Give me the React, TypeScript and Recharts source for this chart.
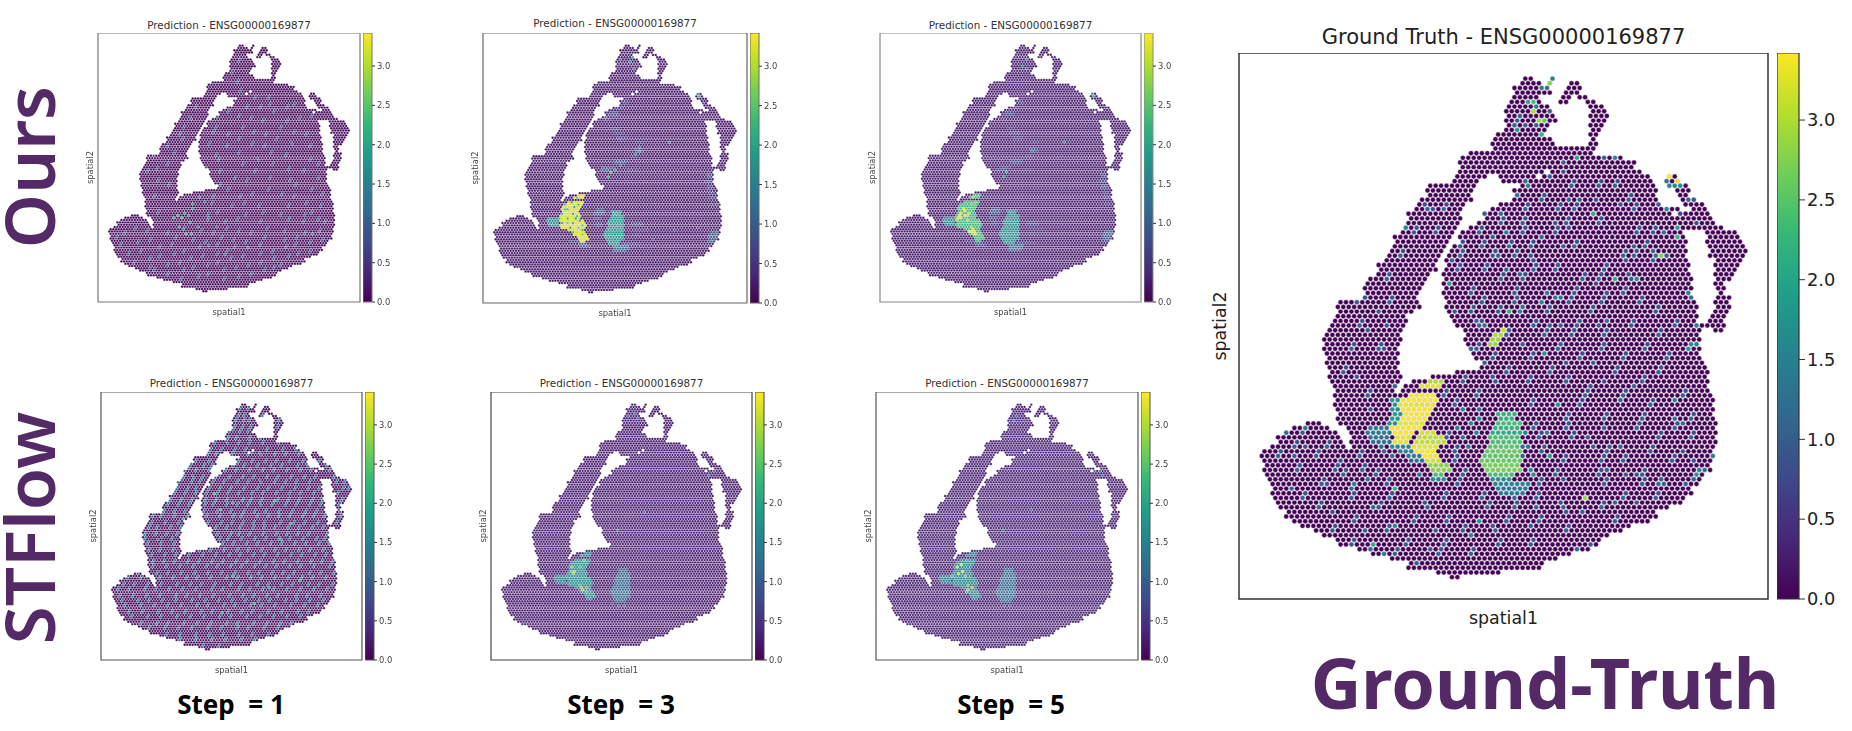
import * as React from 'react';
import { ScatterChart, Scatter, XAxis, YAxis, ReferenceArea, BarChart, Bar } from 'recharts';

// all spots are in one "spatial" unit system
const spatialX: [number, number] = [45, 1369];
const spatialY: [number, number] = [60, 1443];
const spotStep = 13.6;
const spotRowStep = 11.8;
const outlineRowStep = 14.5;
const colorMax = 3.42;
const colorTicks = [0, 0.5, 1, 1.5, 2, 2.5, 3];
const viridis = ['#440154', '#482878', '#3e4989', '#31688e', '#26828e', '#1f9e89', '#35b779', '#6ece58', '#b5de2b', '#fde725'];

// tissue outline, row by row: y, then pairs of x start / x end
const tissueRows: number[][] = [
  [125, 762, 778, 822, 830], [140, 745, 800, 815, 822, 875, 890], [154, 732, 820, 865, 895],
  [169, 725, 790, 848, 880, 900, 915], [183, 722, 800, 845, 870, 912, 930], [198, 722, 815, 925, 950],
  [212, 716, 825, 930, 960], [227, 716, 835, 925, 965], [241, 713, 820, 920, 960], [256, 710, 815, 925, 950],
  [270, 690, 800, 925, 940], [285, 680, 830, 925, 940], [299, 680, 905, 920, 935], [314, 620, 925],
  [328, 605, 1010], [343, 600, 1035], [357, 595, 810, 830, 1050], [372, 588, 668, 698, 790, 800, 1065, 1120, 1135],
  [386, 585, 640, 700, 765, 775, 1075, 1108, 1145], [401, 525, 640, 755, 1085, 1125, 1160],
  [415, 515, 625, 735, 1090, 1140, 1170], [430, 500, 635, 725, 1095, 1150, 1185], [444, 490, 610, 700, 1105, 1165, 1205],
  [459, 480, 605, 680, 1115, 1125, 1140, 1180, 1215], [473, 470, 600, 660, 1130, 1140, 1225], [488, 460, 590, 640, 1235],
  [502, 455, 585, 620, 1250], [517, 450, 575, 605, 1155, 1215, 1285], [531, 435, 570, 595, 1160, 1220, 1300],
  [546, 428, 560, 585, 1160, 1225, 1305], [560, 420, 550, 575, 1165, 1230, 1312], [575, 412, 545, 570, 1165, 1225, 1312],
  [589, 405, 545, 565, 1170, 1235, 1300], [604, 395, 540, 565, 1170, 1240, 1295], [618, 385, 525, 560, 1175, 1235, 1285],
  [633, 375, 515, 558, 1175, 1235, 1275], [647, 368, 505, 558, 1180, 1235, 1255], [662, 362, 495, 560, 1180, 1245, 1255],
  [676, 360, 485, 560, 1185, 1245, 1270], [691, 300, 490, 562, 1185, 1235, 1275], [705, 292, 495, 565, 1190, 1235, 1275],
  [720, 290, 475, 572, 1190, 1235, 1265], [734, 285, 465, 580, 1190, 1225, 1260], [749, 280, 458, 590, 1195, 1205, 1255],
  [763, 270, 455, 605, 1195, 1235, 1250], [778, 262, 450, 615, 1195], [792, 255, 448, 615, 1195], [807, 258, 445, 618, 1200],
  [821, 258, 445, 625, 1200], [836, 262, 442, 640, 1205], [850, 265, 445, 650, 1210], [865, 270, 448, 590, 1215],
  [879, 272, 450, 530, 1215], [894, 277, 445, 480, 1220], [908, 280, 440, 465, 1220], [923, 285, 435, 450, 1225],
  [937, 285, 1230], [952, 288, 1230], [966, 288, 1230], [981, 295, 1232], [995, 215, 255, 300, 1235],
  [1010, 185, 270, 315, 1235], [1024, 165, 285, 320, 1235], [1039, 145, 300, 325, 1238], [1053, 125, 315, 330, 1238],
  [1068, 110, 325, 335, 1230], [1082, 105, 1228], [1097, 103, 1225], [1111, 108, 1222], [1126, 112, 1210],
  [1140, 115, 1195], [1155, 120, 1190], [1169, 128, 1180], [1184, 135, 1165], [1198, 145, 1150], [1213, 150, 1125],
  [1227, 160, 1085], [1242, 180, 1065], [1256, 205, 1030], [1271, 235, 1000], [1285, 255, 965], [1300, 290, 945],
  [1314, 340, 925], [1329, 380, 880], [1343, 420, 845], [1358, 470, 800], [1372, 540, 700], [1387, 570, 590],
];

// expression regions as y, x start, x end
const yellowZone: number[][] = [
  [894, 525, 550], [908, 497, 548], [923, 475, 542], [937, 455, 538], [952, 442, 532], [966, 440, 530], [981, 440, 525],
  [995, 435, 530], [1010, 425, 530], [1024, 425, 545], [1039, 432, 555], [1053, 445, 552], [1068, 470, 552],
  [1082, 490, 555], [1097, 505, 560], [1111, 520, 570], [1126, 530, 560],
];
const blobZone: number[][] = [
  [981, 695, 735], [995, 685, 745], [1010, 680, 750], [1024, 680, 750], [1039, 675, 745], [1053, 670, 745], [1068, 665, 745],
  [1082, 658, 745], [1097, 655, 745], [1111, 660, 745], [1126, 665, 730], [1140, 680, 730],
];
const leftPatch: number[][] = [[1010, 365, 420], [1024, 360, 425], [1039, 375, 420]];

// faint structure in the later steps: y, x start, x end, value
const hazeRuns: number[][] = [
  [415, 745, 770, 0.6], [444, 710, 745, 0.6], [473, 680, 720, 0.7], [502, 650, 690, 0.6], [546, 690, 720, 0.6], [575, 710, 750, 0.6], [604, 720, 760, 0.5],
  [720, 710, 765, 0.7], [749, 650, 700, 0.7], [763, 635, 680, 0.7], [763, 770, 820, 0.5], [618, 810, 850, 0.5], [662, 810, 845, 0.8], [691, 785, 825, 0.6],
  [792, 1170, 1190, 0.8], [821, 1165, 1190, 0.8], [850, 1170, 1200, 0.7], [879, 1175, 1205, 0.7], [908, 1180, 1210, 0.7], [937, 1185, 1215, 0.6],
  [1082, 1190, 1225, 0.9], [1097, 1185, 1222, 0.9], [1111, 1175, 1220, 0.8], [1126, 1170, 1205, 0.8], [966, 610, 645, 0.8], [981, 605, 650, 0.9], [1010, 600, 635, 0.8], [1039, 610, 640, 0.6],
  [1039, 790, 845, 0.6], [1068, 800, 870, 0.5], [1097, 800, 835, 0.5], [1155, 690, 770, 1.2], [1169, 700, 760, 1.1], [1140, 750, 840, 0.6], [1126, 480, 525, 0.6], [1140, 525, 565, 0.9], [1155, 540, 575, 0.8],
];

// ground truth: y, x start, x end, value
const truthRuns: number[][] = [
  [894, 525, 550, 3.0], [908, 497, 545, 3.3], [923, 475, 540, 3.4], [937, 455, 535, 3.4], [952, 445, 530, 3.3], [966, 450, 525, 3.4],
  [981, 450, 520, 3.4], [995, 445, 510, 3.3], [1010, 425, 500, 3.4], [1024, 425, 480, 3.4], [1024, 500, 540, 3.2], [1039, 435, 470, 3.3],
  [1039, 490, 555, 3.1], [1053, 480, 545, 3.3], [1068, 485, 540, 3.4], [1082, 505, 545, 3.4], [1097, 510, 550, 3.2], [1111, 520, 570, 2.8],
  [1126, 530, 560, 2.4], [1140, 525, 555, 1.6], [937, 430, 448, 1.8], [952, 425, 443, 1.8], [966, 425, 448, 1.7], [981, 425, 448, 1.9],
  [995, 420, 443, 1.7], [1053, 430, 478, 1.6], [1068, 440, 483, 1.5], [1082, 470, 503, 1.4], [1097, 490, 508, 1.3],
  [1010, 365, 420, 1.3], [1024, 360, 422, 1.4], [1039, 375, 420, 1.2],
  [981, 695, 735, 2.2], [995, 685, 745, 2.4], [1010, 680, 750, 2.2], [1024, 680, 750, 2.1], [1039, 675, 745, 2.4], [1053, 670, 745, 2.5],
  [1068, 665, 745, 2.6], [1082, 658, 745, 2.5], [1097, 655, 745, 2.6], [1111, 660, 745, 2.7], [1126, 665, 730, 2.4], [1140, 680, 730, 1.7],
  [1155, 685, 770, 1.5], [1169, 695, 760, 1.4], [1053, 745, 770, 1.2], [1082, 745, 765, 1.1], [763, 700, 718, 3.1], [778, 685, 705, 3.0], [792, 675, 695, 2.9],
];
const truthPoints: number[][] = [
  [750, 215, 1], [735, 240, 1], [745, 255, 1.8], [760, 240, 1], [775, 185, 2], [785, 180, 2.4], [785, 210, 3], [795, 230, 2.9], [805, 235, 2.6], [805, 262, 2.2],
  [790, 245, 1.1], [810, 140, 2.8], [825, 125, 1.6], [815, 154, 1.5], [825, 154, 1.3], [800, 154, 1.4], [790, 198, 1.4], [820, 212, 1], [740, 227, 1],
  [855, 343, 1], [885, 328, 2], [850, 357, 0.9], [825, 372, 1], [770, 401, 1.5], [755, 386, 1.2], [990, 328, 1.5], [960, 328, 1],
  [1128, 372, 3.4], [1140, 386, 3.3], [1108, 386, 1.3], [1125, 401, 1.5], [1155, 401, 1.6], [1140, 401, 1.5], [1165, 430, 1], [1180, 430, 0.8],
  [1100, 444, 1], [1120, 459, 1.5], [1140, 502, 2], [1138, 531, 2.2], [1105, 517, 1.2], [1145, 473, 0.7], [1185, 488, 0.8],
  [1105, 575, 2.8], [1090, 575, 1.2], [1075, 560, 1], [1120, 575, 1], [1035, 546, 1], [1045, 560, 0.9], [1085, 589, 1], [985, 633, 2.1], [1045, 633, 1.6], [1010, 589, 0.9],
  [925, 473, 2.1], [865, 430, 1], [895, 430, 0.9], [940, 430, 0.8], [1000, 444, 0.9], [835, 488, 0.9], [875, 502, 0.8], [800, 531, 1], [715, 517, 1.5], [695, 473, 1.2],
  [730, 415, 1.3], [655, 473, 1], [680, 531, 1], [715, 546, 1.3], [770, 575, 0.9], [780, 589, 0.8], [700, 575, 1.1], [720, 604, 1.1], [745, 618, 1], [570, 647, 1.8],
  [590, 720, 1], [575, 589, 1], [600, 560, 1], [850, 546, 1], [830, 604, 0.9], [940, 647, 0.8], [965, 662, 0.8], [820, 662, 1.4], [830, 676, 1.3], [850, 676, 1.4],
  [800, 691, 1.6], [760, 705, 1.2], [725, 720, 2.2], [745, 720, 1.3], [640, 734, 1.2], [660, 749, 1.2], [960, 734, 1.2], [945, 749, 1], [850, 749, 1], [820, 749, 1],
  [855, 792, 1.1], [805, 821, 1.8], [760, 792, 1], [620, 807, 1], [665, 850, 1], [870, 850, 0.9], [930, 850, 1], [1030, 908, 1], [1000, 937, 1], [920, 908, 0.8],
  [960, 894, 0.8], [1130, 937, 1.4], [1135, 981, 1.2], [1160, 995, 1.2], [845, 952, 1.7], [965, 1010, 0.9], [1000, 1053, 0.9], [920, 1039, 1], [930, 1053, 0.9],
  [815, 1024, 1.4], [820, 1082, 1.9], [1070, 1068, 0.8], [1160, 1068, 0.9], [1180, 1097, 0.8], [1175, 662, 1.4], [1180, 676, 1.2], [1185, 749, 1.5], [1180, 792, 1.6],
  [1190, 792, 1.5], [1175, 807, 1.8], [1225, 1082, 1.5], [1195, 1111, 1.4], [1185, 1126, 1.8], [1210, 1111, 1.2], [1090, 1155, 1.1], [1100, 1140, 1], [1115, 1155, 1],
  [1165, 1155, 1], [1180, 1140, 1], [1010, 1126, 0.9], [960, 1111, 0.9], [1040, 1126, 0.9], [915, 1184, 2.9], [980, 1198, 1.1], [1035, 1198, 0.9], [900, 1227, 1],
  [860, 1227, 0.9], [790, 1213, 1], [775, 1256, 0.9], [920, 1300, 1], [885, 1314, 1.1], [640, 1242, 1.8], [630, 1285, 1.5], [540, 1271, 1], [520, 1314, 0.9],
  [485, 1358, 1], [410, 1329, 1.4], [380, 1300, 2.1], [370, 1314, 1.2], [435, 1169, 2.2], [330, 1155, 1.3], [320, 1169, 1.2], [340, 1155, 1.4], [370, 1140, 1.2],
  [295, 1097, 0.9], [265, 1155, 0.9], [190, 1082, 1], [170, 1169, 1.2], [210, 1053, 0.8], [160, 1024, 1.3], [215, 1010, 1.4], [385, 1213, 1.1], [440, 1256, 1.5],
  [365, 1271, 1], [280, 1227, 0.8], [410, 1068, 1], [395, 1053, 1.1], [430, 1082, 1.1], [470, 1097, 1], [500, 1126, 1.2], [590, 1010, 1.4], [605, 1039, 1.2],
  [620, 1053, 1.2], [610, 966, 1.5], [640, 981, 1.4], [620, 995, 1.5], [635, 1024, 1.5], [650, 966, 1.1], [760, 1024, 1.5], [770, 1111, 1.6], [780, 1126, 1.6],
  [735, 1184, 1], [850, 1140, 0.9], [460, 502, 1.6], [510, 444, 0.9], [530, 459, 0.8], [540, 502, 0.9], [390, 720, 0.9], [365, 763, 0.9], [415, 749, 0.9], [405, 807, 0.8],
  [345, 879, 1], [380, 966, 0.8], [440, 908, 1],
];
// faint blue spots of the ground truth: y, then x
const truthRows: number[][] = [
  [401, 880, 940, 990], [430, 800, 1020], [459, 510, 560, 760, 840, 880, 1030], [488, 700, 760, 870, 940], [517, 480, 540, 640, 760, 830, 1040, 1080], [546, 600, 650, 720, 780, 880, 1060],
  [575, 450, 600, 680, 740, 1000, 1035], [604, 590, 660, 780, 840, 960], [633, 420, 700, 760, 900, 950, 1020], [662, 620, 730, 890, 1000], [691, 340, 420, 650, 730, 870, 950, 1050],
  [720, 620, 690, 810, 920, 1090], [749, 350, 640, 780, 890, 1030, 1130], [778, 710, 810, 880, 960, 1100], [807, 330, 400, 640, 840, 950, 1060], [836, 680, 770, 900, 1000, 1120],
  [865, 300, 720, 820, 980, 1090], [894, 600, 680, 770, 860, 1050], [923, 370, 560, 640, 910, 1010, 1150], [952, 590, 780, 900, 1080], [981, 860, 960, 1060, 1170], [1010, 780, 870, 1040, 1130],
  [1024, 200], [1039, 570, 790, 880, 1100, 1180], [1053, 180, 260], [1068, 590, 800, 960, 1080], [1082, 140, 240, 345], [1097, 590, 860, 950, 1010, 1130], [1111, 190, 280, 350],
  [1126, 300, 390, 600, 830, 940, 1060], [1155, 250, 420, 590, 800, 960, 1060], [1184, 200, 330, 420, 560, 650, 790, 1000, 1090], [1213, 240, 400, 510, 660, 730, 850, 950],
  [1242, 330, 480, 560, 720, 800, 980], [1271, 280, 420, 600, 680, 860], [1300, 330, 460, 560, 700, 770], [1329, 430, 540, 620],
];

// step 1 panels: speckle rows, y followed by the x of each lit spot
const oursRows: number[][] = [
  [212, 750], [270, 715], [314, 750], [357, 760], [401, 830, 900], [444, 540, 790, 860, 1000], [473, 700, 930], [502, 510, 815, 1060], [546, 480, 640, 780, 960],
  [589, 450, 700, 890, 1090], [633, 610, 820, 1020], [676, 430, 760, 920], [720, 650, 850, 1110], [763, 340, 590, 1000], [807, 730, 910, 1150], [850, 395, 660, 1040],
  [894, 820, 970, 1180], [937, 620, 780, 1090], [981, 350, 650, 880, 1120], [1024, 600, 750, 1010, 1150], [1068, 230, 480, 700, 900], [1097, 180, 390, 620, 810, 1090],
  [1126, 300, 520, 730, 980, 1180], [1155, 150, 420, 640, 860, 1040], [1184, 260, 480, 700, 930, 1120], [1213, 350, 570, 780, 1000], [1242, 220, 450, 650, 860], [1271, 310, 520, 740, 930],
  [1300, 390, 600, 820], [1329, 460, 680],
  [430, 905, 1040], [488, 640, 760, 1120], [517, 880, 1000], [575, 620, 830, 1030], [604, 470, 760, 950], [647, 400, 700, 880, 1110], [691, 330, 640, 990], [734, 400, 780, 930, 1160],
  [778, 290, 660, 840, 1080], [821, 350, 800, 1010], [865, 700, 900, 1120], [908, 330, 620, 760, 1040], [952, 720, 860, 1000, 1170], [995, 600, 790, 960, 1090], [1039, 690, 860, 1080, 1190],
  [1082, 290, 560, 760, 980, 1160], [1111, 130, 440, 670, 890, 1050], [1140, 240, 590, 790, 1110], [1169, 350, 560, 740, 990], [1198, 200, 430, 640, 860, 1060], [1227, 300, 510, 720, 930], [1256, 400, 600, 800, 960], [1285, 330, 480, 680, 880], [1314, 550, 760],
];
const oursPoints: number[][] = [
  [530, 966, 1.6], [480, 981, 2], [455, 995, 2.3], [500, 995, 1.9], [520, 937, 2], [560, 908, 1.6], [590, 923, 1.5], [430, 1010, 2.2], [470, 1010, 2.4], [505, 1039, 1.7],
  [450, 1053, 2.1], [475, 1068, 1.8], [490, 1097, 2.4], [510, 1097, 2.2], [545, 1053, 1.6], [600, 1010, 1.4], [640, 1053, 1.3], [1130, 1097, 1.5], [1160, 1082, 1.6],
  [800, 1169, 1.5], [870, 1155, 1.5], [610, 1155, 1.5], [690, 1198, 1.5],
];
const stflowRows: number[][] = [
  [154, 745, 790], [183, 735, 775, 860], [212, 730, 770, 800, 945], [241, 725, 760, 800, 935], [270, 700, 745, 790], [299, 690, 730, 790, 850],
  [328, 620, 680, 740, 800, 865, 950], [357, 600, 650, 720, 780, 880, 960, 1030], [386, 590, 625, 710, 790, 850, 920, 985, 1050], [415, 530, 590, 745, 810, 875, 930, 1000, 1070, 1150],
  [444, 495, 560, 600, 715, 775, 830, 905, 960, 1040, 1090, 1185], [473, 475, 530, 585, 670, 730, 800, 860, 920, 990, 1050, 1110, 1200], [502, 460, 510, 560, 630, 690, 760, 820, 880, 945, 1010, 1075, 1130, 1225],
  [531, 440, 500, 550, 610, 665, 735, 790, 850, 920, 975, 1040, 1105, 1240, 1285], [560, 425, 480, 530, 590, 640, 700, 775, 835, 895, 960, 1025, 1090, 1150, 1265, 1300], [589, 410, 470, 520, 580, 630, 690, 745, 815, 870, 930, 1000, 1060, 1125, 1250],
  [618, 395, 450, 505, 575, 620, 680, 755, 800, 860, 940, 990, 1050, 1110, 1165, 1265], [647, 375, 430, 485, 565, 610, 675, 730, 790, 850, 905, 985, 1040, 1100, 1160, 1245], [676, 365, 420, 470, 570, 635, 700, 770, 825, 880, 950, 1010, 1075, 1135, 1255],
  [705, 300, 350, 410, 480, 580, 640, 710, 760, 830, 895, 940, 1005, 1070, 1125, 1175, 1255], [734, 295, 370, 430, 590, 650, 705, 765, 820, 875, 950, 1020, 1080, 1140, 1240], [763, 280, 330, 395, 445, 620, 680, 750, 815, 870, 925, 995, 1050, 1115, 1170],
  [792, 265, 320, 380, 430, 630, 695, 740, 800, 865, 935, 980, 1040, 1100, 1185], [821, 270, 340, 400, 640, 690, 760, 825, 880, 945, 1005, 1070, 1130, 1180], [850, 280, 350, 415, 665, 720, 780, 840, 905, 960, 1025, 1085, 1150, 1200],
  [879, 290, 345, 410, 545, 605, 670, 735, 790, 860, 925, 980, 1050, 1100, 1170], [908, 300, 365, 425, 490, 555, 630, 690, 745, 810, 870, 940, 1000, 1060, 1130, 1190], [937, 300, 355, 420, 480, 535, 600, 660, 730, 785, 845, 915, 975, 1045, 1105, 1165, 1215],
  [966, 310, 370, 440, 510, 575, 635, 695, 750, 820, 880, 930, 1000, 1060, 1125, 1200], [995, 225, 320, 385, 450, 520, 590, 650, 720, 790, 840, 905, 970, 1020, 1095, 1155, 1220], [1024, 180, 250, 340, 410, 470, 530, 600, 680, 735, 805, 860, 930, 990, 1060, 1110, 1185],
  [1053, 150, 210, 285, 350, 430, 490, 555, 625, 700, 755, 830, 895, 960, 1015, 1090, 1150, 1220], [1082, 125, 190, 260, 320, 385, 455, 520, 600, 660, 735, 790, 860, 920, 990, 1060, 1120, 1195], [1111, 130, 205, 270, 345, 420, 470, 550, 615, 690, 760, 820, 890, 945, 1030, 1090, 1160],
  [1140, 150, 225, 290, 360, 425, 500, 570, 640, 705, 770, 845, 900, 975, 1035, 1105, 1175], [1169, 160, 245, 310, 385, 450, 525, 590, 660, 725, 800, 860, 930, 1000, 1070, 1140], [1198, 180, 255, 335, 405, 470, 550, 610, 690, 750, 815, 890, 960, 1035, 1100],
  [1227, 200, 275, 350, 430, 495, 570, 640, 705, 780, 850, 920, 990, 1060], [1256, 240, 320, 385, 460, 530, 600, 680, 740, 815, 885, 950, 1010], [1285, 290, 365, 440, 505, 585, 650, 730, 795, 870, 935],
  [1314, 370, 445, 520, 590, 665, 745, 815, 890], [1343, 440, 520, 600, 670, 750, 820], [1372, 560, 640],
];
const stflowPoints: number[][] = [
  [620, 589, 2.5], [710, 633, 2.2], [650, 662, 2.4], [925, 618, 2.2], [1005, 734, 2.2], [960, 821, 2], [1050, 1039, 2.1], [720, 1010, 2.3], [820, 1155, 2.2], [660, 1198, 2.1], [460, 720, 2.1], [900, 1068, 2],
];

// denoising steps: extra lit spots as x, y, value
const ours3Points: number[][] = [
  [460, 937, 2.3], [490, 923, 2], [520, 908, 2.6], [440, 981, 2.2], [475, 966, 2.4], [505, 952, 2], [430, 1010, 2.3], [500, 981, 1.9], [515, 1010, 1.8], [470, 1010, 2.2],
  [490, 1039, 2.2], [445, 1039, 2], [525, 1024, 2], [545, 1068, 2], [480, 1053, 1.8], [500, 1082, 2.4], [540, 1097, 2.6], [455, 965, 2.5], [510, 995, 2.3], [470, 1030, 2.6], [530, 940, 2.2], [525, 1060, 2.5], [540, 1040, 2.3],
  [690, 778, 2.3], [675, 792, 2.2], [705, 763, 2], [660, 763, 1.3],
  [640, 749, 1.1], [730, 734, 1.2], [825, 662, 1.7], [815, 676, 1.5], [835, 647, 1.4], [985, 618, 1.8], [790, 183, 2], [785, 212, 1.7], [800, 241, 1.5], [740, 198, 1.2], [1133, 386, 2.4], [1120, 372, 1.8], [1150, 415, 1.2],
  [1215, 1082, 1.4], [1195, 1126, 1.3], [1125, 1053, 0.8], [665, 488, 1.2], [780, 1169, 1], [900, 1111, 0.9], [1000, 1068, 0.8],
];
const ours5Points: number[][] = [
  [445, 1010, 3.3], [460, 981, 3.4], [475, 995, 3.4], [470, 966, 3.3], [490, 981, 3.2], [460, 1010, 3.4], [485, 1024, 3.1], [510, 1068, 3.3], [495, 1082, 3.4], [525, 1097, 3.2], [515, 1053, 3], [530, 1082, 3.2],
  [515, 908, 2.9], [505, 937, 2.7], [535, 923, 2.6], [435, 1024, 3], [475, 975, 3.4], [455, 995, 3.3], [490, 1000, 3.1], [505, 1075, 3.3], [520, 1075, 3.2], [515, 1095, 3.1], [690, 778, 1.9], [675, 792, 1.8], [820, 662, 1.6], [985, 625, 1.7], [790, 198, 1.5], [775, 227, 1.4], [795, 241, 1.4], [1133, 386, 2.1], [1120, 372, 1.6],
  [1215, 1082, 1.3], [1195, 1111, 1.2],
];
const stflow3Points: number[][] = [
  [460, 966, 2.9], [475, 981, 3], [450, 981, 2.7], [465, 995, 2.8], [490, 966, 2.5], [510, 923, 2.6], [500, 908, 2.2], [505, 1068, 2.8], [515, 1082, 2.9], [495, 1053, 2.4], [530, 1097, 2.3], [525, 1068, 2.5],
  [690, 778, 1.8], [825, 676, 1.4], [790, 198, 1.2], [745, 183, 1.3], [770, 169, 1.3], [1170, 473, 1.3], [1155, 488, 1.4], [1120, 430, 1], [1230, 1068, 0.9], [720, 1169, 1.2], [700, 1169, 1.1], [660, 1155, 0.9],
];
const stflow5Points: number[][] = [
  [450, 966, 3.2], [470, 952, 3.3], [485, 981, 3.3], [460, 995, 3], [495, 1010, 2.8], [510, 1053, 2.7], [525, 1068, 3], [515, 1082, 2.9], [500, 923, 2], [505, 1097, 2.4], [435, 1010, 2.4],
  [690, 778, 1.5], [825, 662, 1.2], [1170, 473, 1.6], [1150, 473, 1.3], [1190, 488, 1.2], [760, 183, 1.2], [745, 212, 1.1], [1230, 1082, 0.9], [700, 1169, 1.1], [725, 1169, 1.1],
];

const titlePred = 'Prediction - ENSG00000169877';
const titleTruth = 'Ground Truth - ENSG00000169877';

type Spot = { x: number; y: number; v: number };

function hex(c: string) {
  return [1, 3, 5].map((i) => parseInt(c.slice(i, i + 2), 16));
}

function colorOf(v: number) {
  const t = (Math.min(Math.max(v, 0), colorMax) / colorMax) * (viridis.length - 1);
  const i = Math.min(Math.floor(t), viridis.length - 2);
  const a = hex(viridis[i]);
  const b = hex(viridis[i + 1]);
  const m = a.map((n, k) => Math.round(n + (b[k] - n) * (t - i)));
  return `rgb(${m[0]},${m[1]},${m[2]})`;
}

// the spot lattice, kept inside the outline spans of the nearest outline row
function tissue(base: number) {
  const rows: Spot[][] = [];
  for (let r = 0; 125 + r * spotRowStep <= 1390; r++) {
    const y = 125 + r * spotRowStep;
    const span = tissueRows[Math.min(Math.round((y - 125) / outlineRowStep), tissueRows.length - 1)];
    const spots: Spot[] = [];
    for (let k = 2; k * spotStep < 1400; k++) {
      const x = (k + (r % 2) / 2) * spotStep;
      for (let s = 1; s < span.length; s += 2) {
        if (x >= span[s] - 3 && x <= span[s + 1] + 3) spots.push({ x, y, v: base });
      }
    }
    rows.push(spots);
  }
  return rows;
}

function fillRun(rows: Spot[][], y: number, x1: number, x2: number, v: number) {
  rows.forEach((row) => row.forEach((s) => {
    if (Math.abs(s.y - y) <= outlineRowStep / 2 && s.x >= x1 - 3 && s.x <= x2 + 3) s.v = v;
  }));
}

function setSpot(rows: Spot[][], x: number, y: number, v: number) {
  let best: Spot | null = null;
  (rows[Math.round((y - 125) / spotRowStep)] || []).forEach((s) => {
    if (Math.abs(s.x - x) <= spotStep && (!best || Math.abs(s.x - x) < Math.abs(best.x - x))) best = s;
  });
  if (best) (best as Spot).v = v;
}

type Build = { base: number; zones?: [number[][], number][]; runs?: number[][]; speckle?: number[][]; speckleValue?: number; points?: number[][] };

function buildSpots(b: Build) {
  const rows = tissue(b.base);
  (b.zones || []).forEach(([zone, v]) => zone.forEach((z) => fillRun(rows, z[0], z[1], z[2], v)));
  (b.runs || []).forEach((z) => fillRun(rows, z[0], z[1], z[2], z[3]));
  (b.speckle || []).forEach((row) => row.slice(1).forEach((x) => {
    setSpot(rows, x, row[0], b.speckleValue || 1);
    setSpot(rows, x + spotStep / 2, row[0] - spotRowStep, (b.speckleValue || 1) * 0.85);
  }));
  (b.points || []).forEach((p) => setSpot(rows, p[0], p[1], p[2]));
  return rows.flat().sort((a, b2) => a.v - b2.v);
}

function SpotPanel(props: { x: number; y: number; w: number; h: number; title: string; titleY: number; spots: Spot[]; big?: boolean; frame: string }) {
  const { x, y, w, h, title, titleY, spots, big, frame } = props;
  const font = big ? 17.4 : 8.4;
  const textColor = big ? '#222' : '#444';
  const axisSpace = big ? 36 : 20;
  const dot = big ? 2.45 : 1.22;
  const edge = big ? 0.45 : 0.22;
  const shape = (p: any) => <circle cx={p.cx} cy={p.cy} r={dot} fill={colorOf(p.payload.v)} stroke="#d9d0e2" strokeWidth={edge} />;
  const cbW = big ? 22 : 9;
  const cbX = big ? x + w + 9 : x + w + 3;
  return (
    <>
      <div style={{ position: 'absolute', left: x - 100, width: w + 200, top: titleY, textAlign: 'center', fontFamily: 'DejaVu Sans', fontSize: big ? 21 : 10.4, lineHeight: big ? '24px' : '12px', color: big ? '#222' : '#333' }}>
        {title}
      </div>
      <div style={{ position: 'absolute', left: x - axisSpace, top: y, filter: big ? undefined : 'blur(0.35px)' }}>
        <ScatterChart width={w + axisSpace + 2} height={h + axisSpace} margin={{ top: 0, right: 2, bottom: 0, left: 0 }}>
          <XAxis type="number" dataKey="x" domain={spatialX} tick={false} tickLine={false} axisLine={false} height={axisSpace} label={{ value: 'spatial1', position: 'insideBottom', offset: big ? 11 : 7, fontSize: font, fontFamily: 'DejaVu Sans', fill: textColor }} />
          <YAxis type="number" dataKey="y" domain={spatialY} reversed tick={false} tickLine={false} axisLine={false} width={axisSpace} label={{ value: 'spatial2', angle: -90, position: 'insideLeft', offset: big ? 17 : 12, fontSize: font, fontFamily: 'DejaVu Sans', fill: textColor, style: { textAnchor: 'middle' } }} />
          <Scatter data={spots} isAnimationActive={false} shape={shape} />
          <ReferenceArea x1={spatialX[0]} x2={spatialX[1]} y1={spatialY[0]} y2={spatialY[1]} fill="none" fillOpacity={0} stroke={frame} strokeWidth={big ? 1.5 : 1.2} strokeOpacity={1} />
        </ScatterChart>
      </div>
      <div style={{ position: 'absolute', left: cbX, top: y, filter: big ? undefined : 'blur(0.3px)' }}>
        <BarChart width={cbW + (big ? 56 : 30)} height={h + 10} data={[{ name: 'colorbar', value: colorMax }]} barCategoryGap={0} margin={{ top: 0, right: 0, bottom: 10, left: 0 }}>
          <defs>
            <linearGradient id={`cb${x}${y}`} x1="0" y1="1" x2="0" y2="0">
              {viridis.map((c, i) => <stop key={c} offset={i / (viridis.length - 1)} stopColor={c} />)}
            </linearGradient>
          </defs>
          <XAxis dataKey="name" hide />
          <YAxis orientation="right" type="number" domain={[0, colorMax]} ticks={colorTicks} width={big ? 56 : 30} axisLine={false} tickLine={{ stroke: '#333' }} tickSize={big ? 6 : 3} tickFormatter={(v: number) => v.toFixed(1)} tick={{ fontSize: big ? 17.8 : 8.4, fontFamily: 'DejaVu Sans', fill: textColor }} interval={0} />
          <Bar dataKey="value" fill={`url(#cb${x}${y})`} stroke={frame} strokeWidth={big ? 1.2 : 1} isAnimationActive={false} />
        </BarChart>
      </div>
    </>
  );
}

const purple = '#532a66';
const bigLabel = (text: string, cx: number, cy: number, size: number) => (
  <div style={{ position: 'absolute', left: cx - 200, top: cy - 50, width: 400, height: 100, lineHeight: '100px', textAlign: 'center', transform: 'rotate(-90deg)', fontFamily: 'Noto Sans', fontWeight: 600, fontSize: size, color: purple }}>
    {text}
  </div>
);
const stepLabel = (text: string, cx: number) => (
  <div style={{ position: 'absolute', left: cx - 100, width: 200, top: 686, lineHeight: '36px', textAlign: 'center', fontFamily: 'Noto Sans', fontWeight: 700, fontSize: 26, color: '#000', whiteSpace: 'pre' }}>
    {text}
  </div>
);

export default function App() {
  const panels = React.useMemo(() => ({
    ours1: buildSpots({ base: 0.04, speckle: oursRows, speckleValue: 0.95, points: oursPoints }),
    ours3: buildSpots({ base: 0.2, zones: [[leftPatch, 1.6], [yellowZone, 3.25], [blobZone, 1.75]], runs: hazeRuns, points: ours3Points }),
    ours5: buildSpots({ base: 0.25, zones: [[leftPatch, 1.5], [yellowZone, 2.3], [blobZone, 1.65]], runs: hazeRuns, points: ours5Points }),
    st1: buildSpots({ base: 0.04, speckle: stflowRows, speckleValue: 1.3, points: stflowPoints }),
    st3: buildSpots({ base: 0.25, zones: [[leftPatch, 1.3], [yellowZone, 1.6], [blobZone, 1.1]], points: stflow3Points }),
    st5: buildSpots({ base: 0.3, zones: [[leftPatch, 1.3], [yellowZone, 1.5], [blobZone, 1.2]], points: stflow5Points }),
    truth: buildSpots({ base: 0, speckle: truthRows, speckleValue: 1, runs: truthRuns, points: truthPoints }),
  }), []);
  return (
    <div style={{ position: 'absolute', left: 0, top: 0, width: 1852, height: 731, overflow: 'hidden', background: '#fff' }}>
      {bigLabel('Ours', 28, 167, 69)}
      {bigLabel('STFlow', 28, 528, 69)}
      <div style={{ position: 'absolute', left: 1290, width: 510, top: 637, lineHeight: '90px', textAlign: 'center', fontFamily: 'Noto Sans', fontWeight: 700, fontSize: 70, color: purple }}>Ground-Truth</div>
      {stepLabel('Step  = 1', 231)}
      {stepLabel('Step  = 3', 621)}
      {stepLabel('Step  = 5', 1011)}
      <SpotPanel x={98} y={33} w={262} h={269} title={titlePred} titleY={19} spots={panels.ours1} frame="#777" />
      <SpotPanel x={483} y={33} w={264} h={270} title={titlePred} titleY={17} spots={panels.ours3} frame="#666" />
      <SpotPanel x={880} y={33} w={261} h={269} title={titlePred} titleY={19} spots={panels.ours5} frame="#888" />
      <SpotPanel x={101} y={392} w={261} h={268} title={titlePred} titleY={377} spots={panels.st1} frame="#555" />
      <SpotPanel x={491} y={392} w={261} h={268} title={titlePred} titleY={377} spots={panels.st3} frame="#444" />
      <SpotPanel x={876} y={392} w={262} h={268} title={titlePred} titleY={377} spots={panels.st5} frame="#555" />
      <SpotPanel x={1239} y={53} w={529} h={546} title={titleTruth} titleY={25} spots={panels.truth} frame="#333" big />
    </div>
  );
}
